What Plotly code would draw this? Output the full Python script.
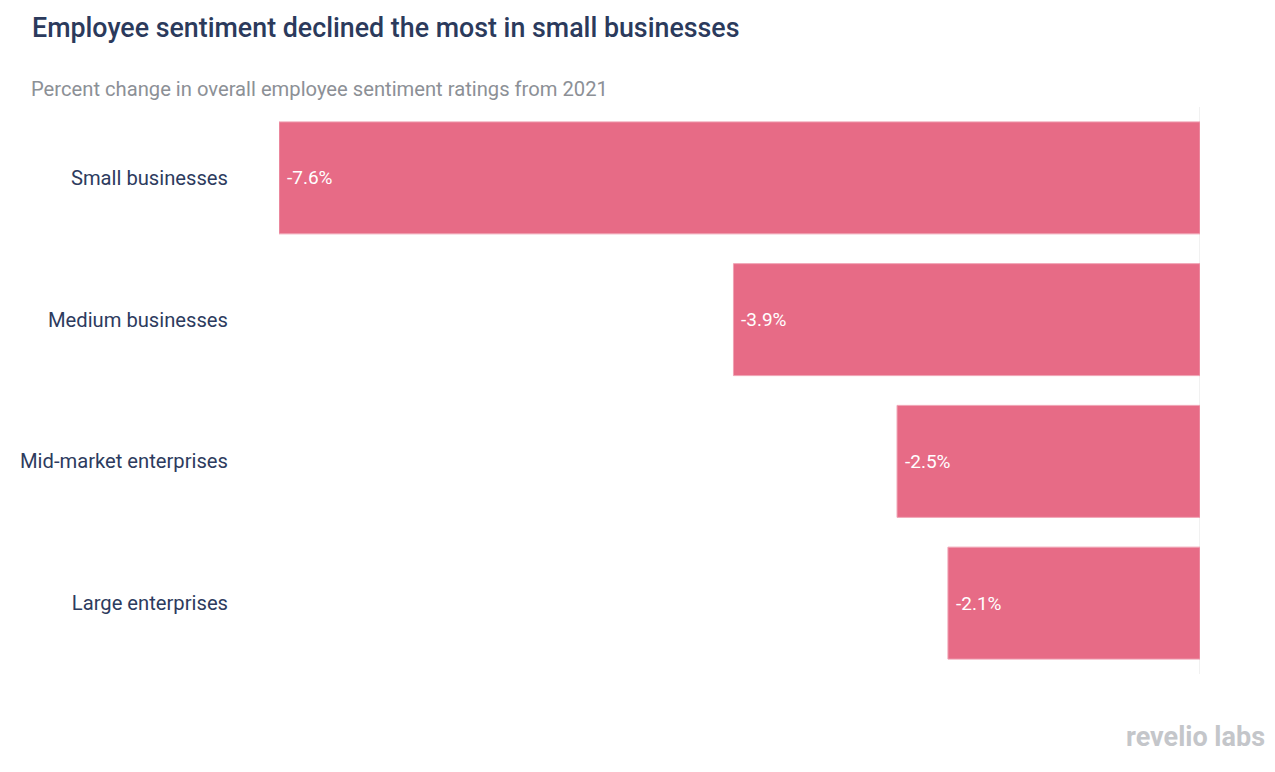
import plotly.graph_objects as go

categories = ["Small businesses", "Medium businesses", "Mid-market enterprises", "Large enterprises"]
values = [-7.6, -3.85, -2.5, -2.08]
labels = ["-7.6%", "-3.9%", "-2.5%", "-2.1%"]

W, H = 1267, 764          # page body has an 8px margin
L, R, T, B = 269, 75, 99, 98
PW, PH = W - L - R, H - T - B

fig = go.Figure()
fig.add_trace(go.Bar(
    y=categories, x=values, orientation="h",
    marker=dict(color="#E76B86", line=dict(color="#F0A3B4", width=1)),
    hoverinfo="skip",
))

fig.add_shape(type="line", xref="x", yref="paper", x0=0, x1=0, y0=0, y1=1,
              line=dict(color="#E3E3E3", width=1), layer="below")

ann = []
for c, v, t in zip(categories, values, labels):
    ann.append(dict(x=v, y=c, xref="x", yref="y", text=t, showarrow=False,
                    xanchor="left", yanchor="middle", xshift=6,
                    font=dict(family="Roboto", size=19, color="#ffffff")))

ann += [
    dict(text="Employee sentiment declined the most in small businesses",
         xref="paper", yref="paper", x=(27 - 8 - L) / PW, y=1 + (T - (28 - 8)) / PH,
         xanchor="left", yanchor="middle", showarrow=False,
         font=dict(family="Roboto", size=26.8, color="#2B3A5C", weight=500)),
    dict(text="Percent change in overall employee sentiment ratings from 2021",
         xref="paper", yref="paper", x=(26 - 8 - L) / PW, y=1 + (T - (89 - 8)) / PH,
         xanchor="left", yanchor="middle", showarrow=False,
         font=dict(family="Roboto", size=20.2, color="#8C9096")),
    dict(text="<b>revelio labs</b>",
         xref="paper", yref="paper", x=(1267 - 8 - L) / PW, y=-((737 - 8) - (T + PH)) / PH,
         xanchor="right", yanchor="middle", showarrow=False,
         font=dict(family="Roboto", size=27, color="#C4C6CA")),
]

fig.update_layout(
    width=W, height=H,
    paper_bgcolor="white", plot_bgcolor="white",
    margin=dict(l=L, r=R, t=T, b=B),
    bargap=0.21,
    showlegend=False,
    font=dict(family="Roboto"),
    xaxis=dict(range=[-7.6, 0], showgrid=False, zeroline=False, showticklabels=False,
               showline=False, fixedrange=True),
    yaxis=dict(autorange="reversed", showgrid=False, zeroline=False, showline=False,
               tickfont=dict(family="Roboto", size=20.2, color="#2D3B5E"),
               ticklabelstandoff=50),
    annotations=ann,
)

fig.write_html("out.html")
